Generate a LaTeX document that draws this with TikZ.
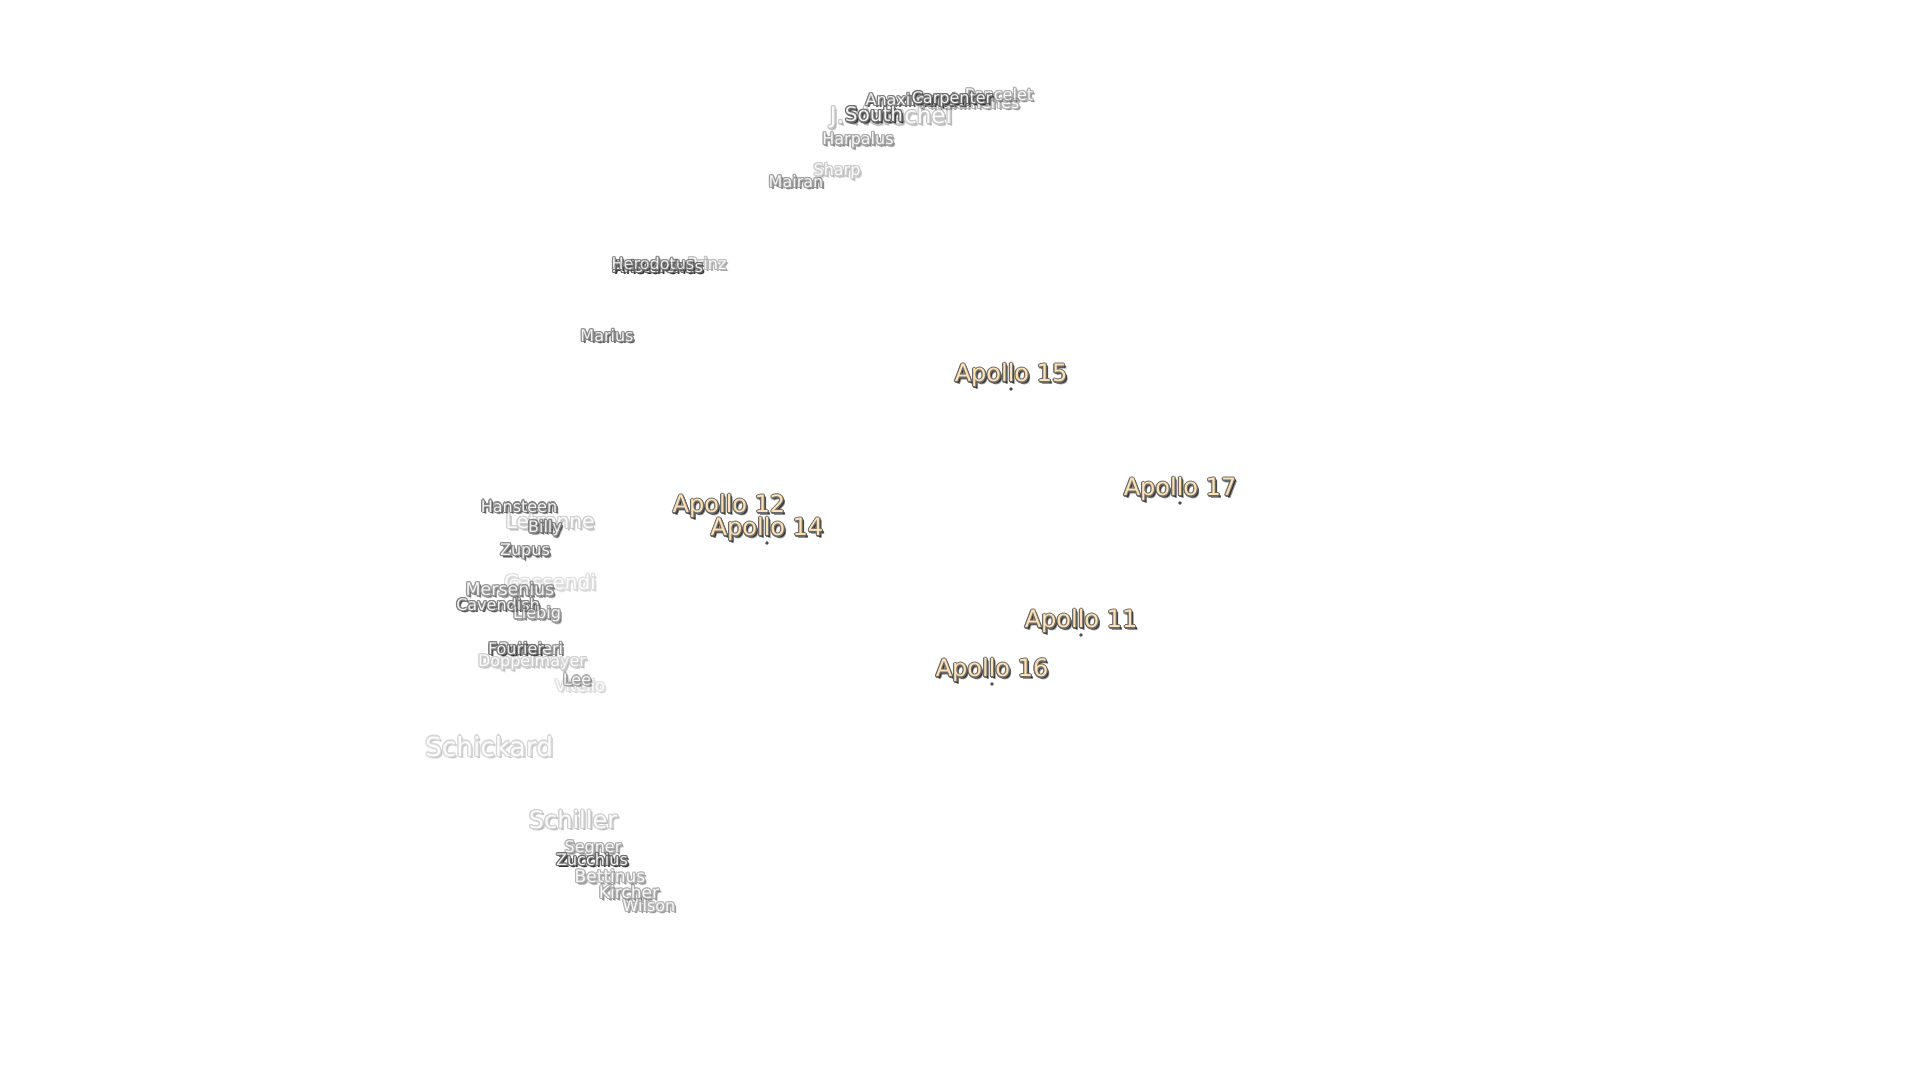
\documentclass[tikz,border=0pt]{standalone}
\usepackage{fontspec}
\setmainfont{DejaVu Sans}
\definecolor{haloshadow}{HTML}{333333}
\definecolor{haloedge}{HTML}{6A6A6A}
\definecolor{sitefill}{HTML}{FFE2B4}
\definecolor{craterfill}{HTML}{F2F2F2}
\newcommand\halocopy[3]{\makebox[0pt][l]{\kern#1\raisebox{#2}{#3}}}
\newcommand\halotext[2]{%
\color{haloshadow!55}\halocopy{1.25pt}{-1.25pt}{#2}%
\color{haloshadow}\halocopy{.95pt}{-.95pt}{#2}\halocopy{.65pt}{-.65pt}{#2}%
\color{haloedge}\halocopy{-.62pt}{0pt}{#2}\halocopy{.62pt}{0pt}{#2}\halocopy{0pt}{.62pt}{#2}\halocopy{0pt}{-.62pt}{#2}%
\halocopy{-.44pt}{.44pt}{#2}\halocopy{.44pt}{.44pt}{#2}\halocopy{-.44pt}{-.44pt}{#2}\halocopy{.44pt}{-.44pt}{#2}%
\color{#1}#2}
\newcommand\crater[6]{\begin{scope}[transparency group,opacity=#5]
\node[labelnode,font=\fontsize{#4}{#4}\selectfont] (#1) at (#2,#3) {\halotext{craterfill}{#6}};
\end{scope}}
\newcommand\apollo[4]{\node[labelnode,font=\fontsize{12}{12}\selectfont] (#1) at (#2,#3) {\halotext{sitefill}{#4}};}
\tikzset{
  labelnode/.style={inner sep=0pt,anchor=center},
  sitedot/.style={circle,fill=haloshadow,draw=haloedge!60,line width=.3pt,inner sep=0pt,minimum size=1.8pt}
}
\begin{document}
\begin{tikzpicture}[x=0.5pt,y=-0.5pt]
\useasboundingbox (0,0) rectangle (1920,1080);
% north
\crater{anaximenes}{970}{103}{8}{.5}{Anaximenes}
\crater{poncelet}{999}{95}{8}{.55}{Poncelet}
\crater{anaximander}{919}{100}{8}{.85}{Anaximander}
\crater{carpenter}{952}{100}{8}{1}{Carpenter}
\crater{herschel}{891}{118}{11.5}{.38}{J. Herschel}
\crater{south}{874}{115}{10}{1}{South}
\crater{harpalus}{858}{141}{8}{.6}{Harpalus}
\crater{sharp}{837}{172}{8}{.35}{Sharp}
\crater{mairan}{796}{182}{8}{.65}{Mairan}
% middle
\crater{prinz}{707}{264}{8}{.45}{Prinz}
\crater{aristarchus}{658}{267}{8}{1}{Aristarchus}
\crater{herodotus}{653}{264}{8}{.8}{Herodotus}
\crater{marius}{607}{336}{8}{.8}{Marius}
% west
\crater{letronne}{550}{522}{10}{.32}{Letronne}
\crater{gassendi}{550}{583}{10}{.22}{Gassendi}
\crater{hansteen}{519}{507}{8}{.85}{Hansteen}
\crater{billy}{545}{529}{8}{.8}{Billy}
\crater{zupus}{525}{552}{8}{.8}{Zupus}
\crater{mersenius}{510}{590}{8.7}{.7}{Mersenius}
\crater{cavendish}{498}{605}{8}{.85}{Cavendish}
\crater{liebig}{537}{615}{8}{.65}{Liebig}
\crater{vitello}{580}{686}{8}{.2}{Vitello}
\crater{doppelmayer}{532}{663}{8}{.32}{Doppelmayer}
\crater{lee}{577}{680}{8}{.55}{Lee}
\crater{palmieri}{531}{649}{8}{.7}{Palmieri}
\crater{fourier}{516}{649}{8}{.9}{Fourier}
% south
\crater{schickard}{489}{747}{13.2}{.27}{Schickard}
\crater{schiller}{573}{820}{12}{.32}{Schiller}
\crater{segner}{593}{849}{8}{.55}{Segner}
\crater{zucchius}{592}{860}{8}{1}{Zucchius}
\crater{bettinus}{610}{877}{8.5}{.5}{Bettinus}
\crater{kircher}{629}{893}{8.5}{.55}{Kircher}
\crater{wilson}{649}{906}{8}{.5}{Wilson}
% landing sites
\apollo{a15}{1011}{376}{Apollo 15}
\apollo{a17}{1180}{490}{Apollo 17}
\apollo{a12}{729}{507}{Apollo 12}
\apollo{a14}{767}{530}{Apollo 14}
\apollo{a11}{1081}{622}{Apollo 11}
\apollo{a16}{992}{671}{Apollo 16}
\node[sitedot] (d15) at (1011,389) {};
\node[sitedot] (d17) at (1180,503) {};
\node[sitedot] (d14) at (767,543) {};
\node[sitedot] (d11) at (1081,635) {};
\node[sitedot] (d16) at (992,684) {};
\end{tikzpicture}
\end{document}
